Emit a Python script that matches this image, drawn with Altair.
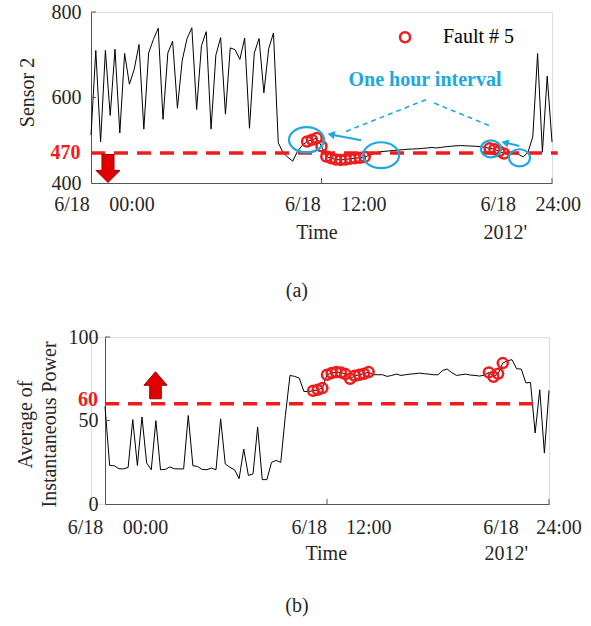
import altair as alt
import pandas as pd

# ---------------- data ----------------
STEP_H = 0.25  # 15-minute samples, 0..24 h

sensor2 = [512, 710, 496, 710, 558, 713, 517, 703, 631, 666,
           724, 526, 704, 736, 762, 549, 704, 732, 575, 687,
           738, 763, 572, 721, 754, 526, 699, 740, 561, 716,
           712, 689, 739, 528, 704, 738, 611, 714, 751, 494,
           471, 460, 451, 474, 488, 497, 501, 505, 486, 462,
           458, 455, 454, 455, 457, 458, 459, 461, 465, 469,
           473, 474, 475, 476, 477, 478, 479, 479.5, 480, 481,
           482, 483, 482, 483.5, 485, 486, 487, 487.5, 487, 486.5,
           486, 485, 483.5, 481, 479, 474, 469, 467, 469, 467,
           461, 472, 508, 703, 472, 650, 496]

power = [58.4, 23.1, 22.9, 21.1, 21.0, 21.9, 50.5, 23.1, 52.1, 24.6,
         20.5, 49.9, 20.5, 20.7, 22.2, 21.1, 21.0, 21.0, 53.0, 22.9,
         22.5, 20.7, 20.5, 21.5, 20.5, 51.0, 24.0, 22.0, 20.5, 15.2,
         32.9, 17.1, 18.0, 46.1, 14.6, 14.6, 24.9, 26.1, 24.9, 53.0,
         77.0, 76.4, 75.4, 67.4, 67.4, 67.8, 68.4, 69.4, 77.4, 78.4,
         79.0, 78.8, 77.8, 75.0, 76.8, 77.4, 78.0, 79.0, 77.4, 77.4,
         77.4, 76.4, 77.0, 77.8, 77.0, 77.4, 77.8, 78.0, 78.4, 78.0,
         77.8, 77.4, 77.4, 80.0, 80.8, 78.6, 77.0, 77.4, 77.8, 77.2,
         77.0, 76.6, 77.2, 78.8, 76.2, 78.0, 84.4, 85.8, 86.4, 81.0,
         80.8, 72.5, 72.8, 42.5, 68.4, 30.5, 68.0]

faults_a = list(range(45, 58)) + [83, 84, 85, 86]
faults_b = list(range(45, 58)) + [83, 84, 85, 86]

threshold_a = 470
threshold_b = 60
tick_hours = [0, 12, 24]
date_label = "6/18"
time_labels = ["00:00", "12:00", "24:00"]
second_row = ["Time", "2012'"]
legend_label = "Fault # 5"
interval_label = "One hour interval"
captions = ["(a)", "(b)"]
title_a = "Sensor 2"
title_b = ["Average of", "Instantaneous Power"]

# ---------------- styles ----------------
FONT = "Liberation Serif"
INK = "#262626"
AX = "#555555"
RED = "#EE1C1C"
DARKRED = "#A00000"
CYAN = "#1EA8E0"
FS = 20
MARK_SIZE = 100
MARK_SW = 2.5


def series_df(vals, faults):
    return pd.DataFrame({
        "t": [i * STEP_H for i in range(len(vals))],
        "v": vals,
        "fault": [i in faults for i in range(len(vals))],
    })


def ellipse_path(k):
    c = 0.5523
    return (f"M 1 0 C 1 {c*k:.4f} {c:.4f} {k} 0 {k} "
            f"C {-c:.4f} {k} -1 {c*k:.4f} -1 0 "
            f"C -1 {-c*k:.4f} {-c:.4f} {-k} 0 {-k} "
            f"C {c:.4f} {-k} 1 {-c*k:.4f} 1 0 Z")


DOWN_ARROW = "M -0.43 -1 L 0.43 -1 L 0.43 0.14 L 0.86 0.14 L 0 1 L -0.86 0.14 L -0.43 0.14 Z"
UP_ARROW = "M -0.43 1 L 0.43 1 L 0.43 0 L 0.86 0 L 0 -1 L -0.86 0 L -0.43 0 Z"


def text_layer(df, y_px, **kw):
    base = dict(font=FONT, fontSize=FS, color=INK, baseline="middle", align="center")
    base.update(kw)
    return alt.Chart(df).mark_text(**base).encode(
        x="t:Q", y=alt.value(y_px), text="txt:N")


def build_panel(vals, faults, ydom, yticks, title, xscale,
                xlab_pos, row2_pos, cap_pos, row_px, yaxis_kw, tick_len_h, tick_len_v,
                thr, thr_end, thr_text_pos, arrow, caption):
    df = series_df(vals, faults)
    x_enc = alt.X("t:Q", scale=xscale,
                  axis=alt.Axis(values=tick_hours, labels=False, ticks=False, title=None,
                                grid=False, domainColor=AX, domainWidth=1))
    y_enc = alt.Y("v:Q", scale=alt.Scale(domain=ydom, nice=False, zero=False),
                  axis=alt.Axis(values=yticks, ticks=False, grid=False, title=title,
                                labelFont=FONT, labelFontSize=FS, labelColor=INK,
                                titleFont=FONT, titleFontSize=FS, titleColor=INK,
                                titleFontWeight="normal", domainColor=AX, domainWidth=1,
                                **yaxis_kw))
    line = alt.Chart(df).mark_line(color="black", strokeWidth=1).encode(x=x_enc, y=y_enc)

    thr_df = pd.DataFrame({"t0": [0], "t1": [thr_end], "v": [thr]})
    thr_rule = alt.Chart(thr_df).mark_rule(color=RED, strokeWidth=3.5,
                                           strokeDash=[14, 9]).encode(
        x="t0:Q", x2="t1:Q", y="v:Q")

    pts = alt.Chart(df[df["fault"]]).mark_point(
        shape="circle", filled=False, size=MARK_SIZE, strokeWidth=MARK_SW, color=RED, opacity=1
    ).encode(x="t:Q", y="v:Q")

    # inward ticks
    ytk = pd.DataFrame({"v": yticks[1:], "t0": 0, "t1": tick_len_h})
    ytick_rules = alt.Chart(ytk).mark_rule(color=AX, strokeWidth=1).encode(
        x="t0:Q", x2="t1:Q", y="v:Q")
    xtk = pd.DataFrame({"t": tick_hours[1:], "v0": ydom[0], "v1": ydom[0] + tick_len_v})
    xtick_rules = alt.Chart(xtk).mark_rule(color=AX, strokeWidth=1).encode(
        x="t:Q", y="v0:Q", y2="v1:Q")

    thr_txt = alt.Chart(pd.DataFrame({"t": [thr_text_pos[0]], "v": [thr_text_pos[1]],
                                      "txt": [str(thr)]})).mark_text(
        font=FONT, fontSize=FS, fontWeight="bold", color=RED, align="right",
        baseline="middle").encode(x="t:Q", y="v:Q", text="txt:N")

    arr = alt.Chart(pd.DataFrame({"t": [arrow[0]], "v": [arrow[1]]})).mark_point(
        shape=arrow[2], filled=True, fill="#E00000", stroke=DARKRED, strokeWidth=1,
        size=arrow[3], opacity=1).encode(x="t:Q", y="v:Q")

    # x tick labels rendered as text under the axis
    lab_rows = []
    for h, tl, (p1, p2) in zip(tick_hours, time_labels, xlab_pos):
        lab_rows.append({"t": p1, "txt": date_label})
        lab_rows.append({"t": p2, "txt": tl})
    row1 = text_layer(pd.DataFrame(lab_rows), row_px[0])
    row2 = text_layer(pd.DataFrame({"t": row2_pos, "txt": second_row}), row_px[1])
    cap = text_layer(pd.DataFrame({"t": [cap_pos], "txt": [caption]}), row_px[2])

    return [line, thr_rule, pts, ytick_rules, xtick_rules, thr_txt, arr, row1, row2, cap]


# ---------------- panel (a) ----------------
xs_a = alt.Scale(domain=[0, 24], nice=False)
layers_a = build_panel(
    sensor2, faults_a, [400, 800], [400, 600, 800], title_a, xs_a,
    xlab_pos=[(-0.99, 2.13), (11.03, 14.2), (21.2, 24.33)],
    row2_pos=[11.76, 21.57], cap_pos=10.72, row_px=[193, 221, 279],
    yaxis_kw=dict(labelPadding=10, titlePadding=14, titleY=80),
    tick_len_h=0.26, tick_len_v=11.7,
    thr=threshold_a, thr_end=24.3, thr_text_pos=(-0.55, 471),
    arrow=(0.885, 434, DOWN_ARROW, 784), caption=captions[0])

ell = pd.DataFrame({
    "t": [11.22, 15.10, 20.82, 22.31],
    "v": [501, 465, 480, 459],
    "shp": [ellipse_path(0.72), ellipse_path(0.72), ellipse_path(0.85), ellipse_path(0.81)],
    "sz": [1225, 1296, 400, 441],
})
ellipses = alt.Chart(ell).mark_point(filled=False, color=CYAN, strokeWidth=2.2, opacity=1).encode(
    x="t:Q", y="v:Q", shape=alt.Shape("shp:N", scale=None), size=alt.Size("sz:Q", scale=None))

shafts = pd.DataFrame({"t0": [14.06, 22.30], "v0": [500, 486.5],
                       "t1": [12.55, 21.60], "v1": [513, 494]})
shaft_rules = alt.Chart(shafts).mark_rule(color=CYAN, strokeWidth=2).encode(
    x="t0:Q", y="v0:Q", x2="t1:Q", y2="v1:Q")
heads = pd.DataFrame({"t": [12.50, 21.55], "v": [513.5, 494.5], "ang": [11.4, 13.5]})
head_pts = alt.Chart(heads).mark_point(shape="triangle-left", filled=True, color=CYAN,
                                        size=70, opacity=1).encode(
    x="t:Q", y="v:Q", angle=alt.Angle("ang:Q", scale=None))
dashes = pd.DataFrame({"t0": [17.44, 17.87], "v0": [595, 587],
                       "t1": [13.19, 20.91], "v1": [519, 531]})
dash_rules = alt.Chart(dashes).mark_rule(color=CYAN, strokeWidth=1.6, strokeDash=[5, 4]).encode(
    x="t0:Q", y="v0:Q", x2="t1:Q", y2="v1:Q")
interval_txt = alt.Chart(pd.DataFrame({"t": [17.39], "v": [640], "txt": [interval_label]})).mark_text(
    font=FONT, fontSize=FS, fontWeight="bold", color=CYAN, baseline="middle").encode(
    x="t:Q", y="v:Q", text="txt:N")
leg_pt = alt.Chart(pd.DataFrame({"t": [16.35], "v": [741]})).mark_point(
    shape="circle", filled=False, size=MARK_SIZE, strokeWidth=MARK_SW, color=RED, opacity=1).encode(
    x="t:Q", y="v:Q")
leg_txt = alt.Chart(pd.DataFrame({"t": [18.32], "v": [741], "txt": [legend_label]})).mark_text(
    font=FONT, fontSize=FS, color="black", align="left", baseline="middle").encode(
    x="t:Q", y="v:Q", text="txt:N")

panel_a = alt.layer(*layers_a, ellipses, shaft_rules, head_pts, dash_rules, interval_txt,
                    leg_pt, leg_txt).properties(width=461, height=171)

# ---------------- panel (b) ----------------
xs_b = alt.Scale(domain=[0, 24], range=[14, 458], nice=False)
layers_b = build_panel(
    power, faults_b, [0, 100], [0, 50, 100], title_b, xs_b,
    xlab_pos=[(-1.05, 2.19), (11.04, 14.26), (21.41, 24.54)],
    row2_pos=[11.96, 21.69], cap_pos=10.38, row_px=[191, 217, 269],
    yaxis_kw=dict(labelPadding=7, titlePadding=9, titleY=87, offset=-14, titleLineHeight=24),
    tick_len_h=0.27, tick_len_v=3,
    thr=threshold_b, thr_end=23.4, thr_text_pos=(-0.38, 62),
    arrow=(2.73, 71.1, UP_ARROW, 729), caption=captions[1])
panel_b = alt.layer(*layers_b).properties(width=458, height=167)

chart = alt.vconcat(panel_a, panel_b, spacing=24).properties(
    padding={"left": 14, "top": 1, "right": 0, "bottom": 0}
).configure_view(stroke=None).configure(background="white")

chart.save("out.html", embed_options={"renderer": "svg", "actions": False})
